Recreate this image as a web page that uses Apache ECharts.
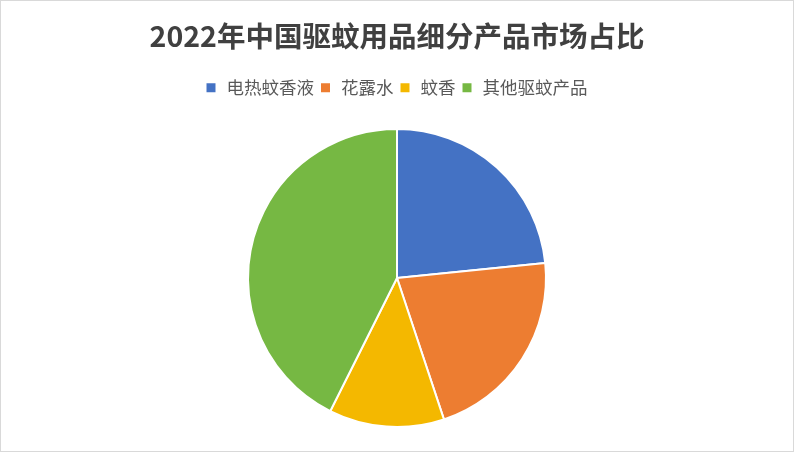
<!DOCTYPE html>
<html>
<head>
<meta charset="utf-8">
<script src="https://cdn.jsdelivr.net/npm/echarts@6/dist/echarts.min.js"></script>
<style>
html,body{margin:0;padding:0;background:#fff;}
#c{width:792px;height:450px;border:1px solid #d9d9d9;}
</style>
</head>
<body>
<div id="c"></div>
<script>
const categories = ['电热蚊香液', '花露水', '蚊香', '其他驱蚊产品'];
const values = [23.4, 21.5, 12.5, 42.6];
const colors = ['#4472C4', '#ED7D31', '#F4B800', '#76B843'];

const chart = echarts.init(document.getElementById('c'));
chart.setOption({
  animation: false,
  title: {
    text: '2022年中国驱蚊用品细分产品市场占比',
    left: 'center',
    top: 16,
    textStyle: {
      fontFamily: '"Noto Sans CJK SC", sans-serif',
      fontSize: 28.5,
      fontWeight: 'bold',
      color: '#404040'
    }
  },
  legend: {
    top: 73,
    left: 'center',
    icon: 'rect',
    itemWidth: 9,
    itemHeight: 9,
    itemGap: 7,
    itemStyle: { borderWidth: 0 },
    textStyle: {
      fontFamily: '"Noto Sans CJK SC", sans-serif',
      fontSize: 17.5,
      color: '#595959',
      padding: [0, 0, 0, 6]
    },
    data: categories
  },
  series: [{
    type: 'pie',
    center: [396, 277],
    radius: 149,
    startAngle: 90,
    clockwise: true,
    label: { show: false },
    labelLine: { show: false },
    itemStyle: { borderColor: '#fff', borderWidth: 2 },
    emphasis: { disabled: true },
    data: categories.map((n, i) => ({ name: n, value: values[i], itemStyle: { color: colors[i] } }))
  }]
});
</script>
</body>
</html>
